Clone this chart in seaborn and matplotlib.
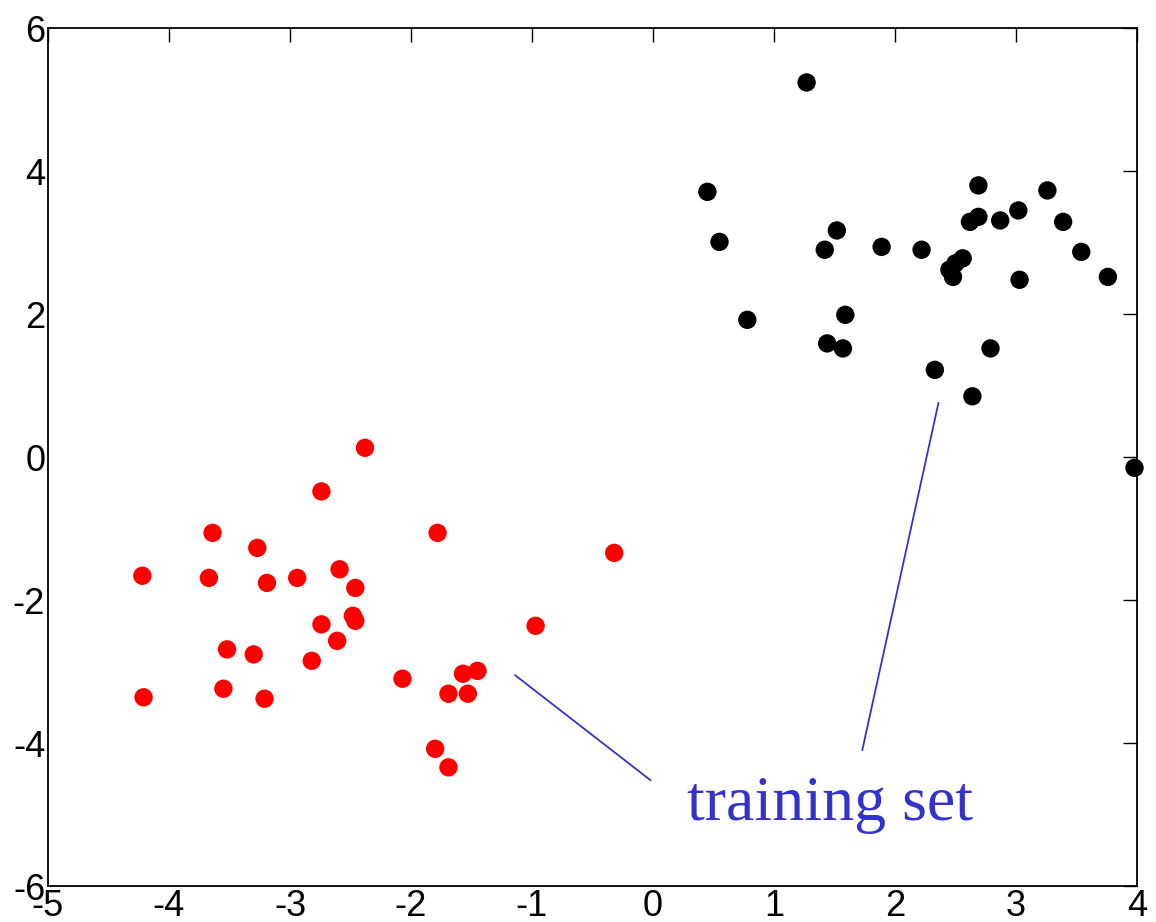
import numpy as np
import pandas as pd
import matplotlib
matplotlib.use("Agg")
import matplotlib.pyplot as plt
import seaborn as sns

# red cluster
red_x = [-2.38, -2.74, -3.64, -1.78, -3.27, -0.32, -2.59, -4.22, -3.67, -2.94,
         -3.19, -2.46, -2.48, -2.46, -2.74, -0.97, -2.61, -3.52, -3.30, -2.82,
         -1.45, -1.57, -2.07, -3.55, -1.69, -1.53, -4.21, -3.21, -1.80, -1.69]
red_y = [0.13, -0.48, -1.06, -1.06, -1.27, -1.34, -1.57, -1.66, -1.69, -1.69,
         -1.76, -1.83, -2.22, -2.29, -2.34, -2.36, -2.57, -2.69, -2.76, -2.85,
         -2.99, -3.03, -3.10, -3.24, -3.31, -3.31, -3.36, -3.38, -4.08, -4.34]

# black cluster
black_x = [1.27, 0.45, 2.69, 3.26, 0.55, 1.52, 2.69, 2.62, 2.87, 3.02,
           3.39, 1.42, 1.89, 2.22, 3.54, 2.56, 2.50, 2.45, 2.48, 3.03,
           3.76, 1.59, 0.78, 1.44, 1.57, 2.79, 2.33, 2.64, 3.98]
black_y = [5.24, 3.71, 3.80, 3.73, 3.01, 3.17, 3.36, 3.29, 3.31, 3.45,
           3.29, 2.90, 2.94, 2.90, 2.87, 2.78, 2.71, 2.62, 2.52, 2.48,
           2.52, 1.99, 1.92, 1.59, 1.52, 1.52, 1.22, 0.85, -0.15]

# annotation pointer lines
line1_x = [-1.14, -0.02]
line1_y = [-3.05, -4.52]
line2_x = [1.73, 2.36]
line2_y = [-4.10, 0.76]
label_text = "training set"

df = pd.DataFrame({
    "x": red_x + black_x,
    "y": red_y + black_y,
    "cls": ["red"] * len(red_x) + ["black"] * len(black_x),
})

sns.set_style("white")
plt.rcParams["font.family"] = ["Liberation Sans", "DejaVu Sans"]
plt.rcParams["axes.unicode_minus"] = False

fig = plt.figure(figsize=(11.56, 9.22), dpi=100)
ax = fig.add_axes([0.0415, 0.039, 0.942, 0.9305])

sns.scatterplot(data=df, x="x", y="y", hue="cls",
                palette={"red": "#ff0000", "black": "#000000"},
                s=175, linewidth=0, legend=False, ax=ax, clip_on=False, zorder=3)

sns.lineplot(x=line1_x, y=line1_y, color="#3333cc", lw=1.3, ax=ax, sort=False)
sns.lineplot(x=line2_x, y=line2_y, color="#3333cc", lw=1.3, ax=ax, sort=False)
ax.text(1.46, -4.87, label_text, color="#3333cc", fontsize=46,
        family=["Liberation Serif", "DejaVu Serif"], ha="center", va="center")

ax.set_xlim(-5, 4)
ax.set_ylim(-6, 6)
ax.set_xticks(np.arange(-5, 5, 1))
ax.set_yticks(np.arange(-6, 7, 2))
ax.set_xlabel("")
ax.set_ylabel("")
ax.tick_params(direction="in", length=10, width=1, top=True, right=True,
               labelsize=26, pad=2, colors="black")
for sp in ax.spines.values():
    sp.set_visible(True)
    sp.set_color("black")
    sp.set_linewidth(1.3)

fig.savefig("out.png", dpi=100)
